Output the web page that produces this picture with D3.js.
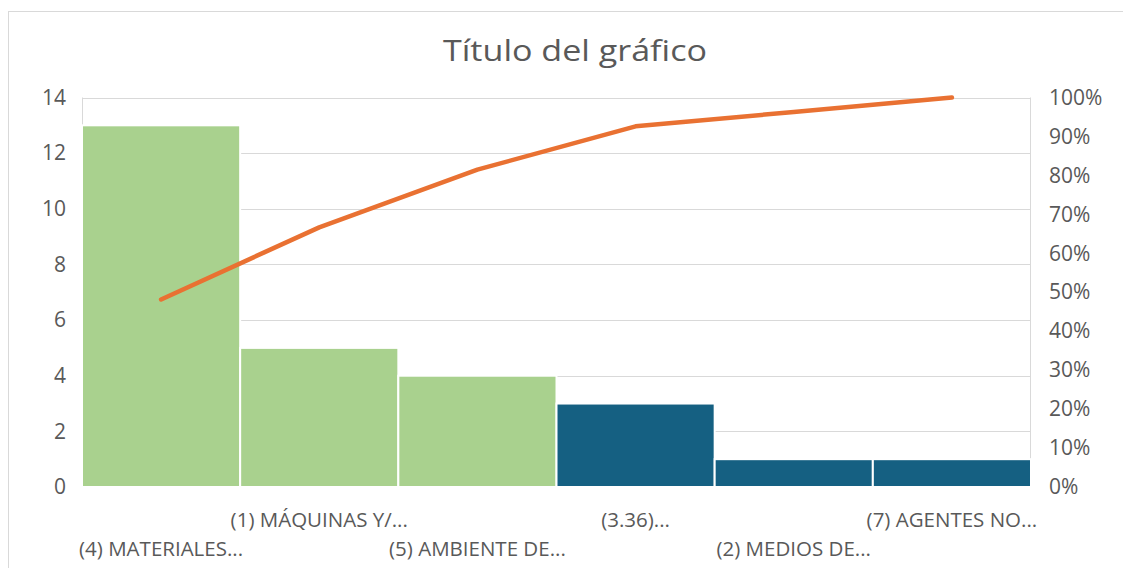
<!DOCTYPE html>
<html><head><meta charset="utf-8">
<script src="https://cdn.jsdelivr.net/npm/d3@7"></script>
<style>body{margin:0;background:#fff;} text{font-family:"Open Sans","Noto Sans",sans-serif;}</style>
</head><body>
<svg id="c" width="1123" height="568"></svg>
<script>
const categories = ["(4) MATERIALES...", "(1) MÁQUINAS Y/...", "(5) AMBIENTE DE...", "(3.36)...", "(2) MEDIOS DE...", "(7) AGENTES NO..."];
const values = [13, 5, 4, 3, 1, 1];
const barColors = ["#A9D18E", "#A9D18E", "#A9D18E", "#156082", "#156082", "#156082"];
const leftTicks = [0, 2, 4, 6, 8, 10, 12, 14];
const rightTicks = [0, 0.1, 0.2, 0.3, 0.4, 0.5, 0.6, 0.7, 0.8, 0.9, 1];
const title = "Título del gráfico";

const total = d3.sum(values);
let acc = 0;
const cumulative = values.map(v => (acc += v) / total);

const svg = d3.select("#c");
const m = {l: 82, r: 1031, t: 97.5, b: 487};
const x = d3.scaleBand().domain(categories).range([m.l, m.r]).padding(0);
const y = d3.scaleLinear().domain([0, 14]).range([m.b, m.t]);
const y2 = d3.scaleLinear().domain([0, 1]).range([m.b, m.t]);

// chart border
svg.append("rect").attr("x", 8.5).attr("y", 11.5).attr("width", 1125).attr("height", 570)
  .attr("fill", "none").attr("stroke", "#d9d9d9");

// title
svg.append("text").attr("x", 575).attr("y", 61).attr("text-anchor", "middle")
  .attr("font-size", 30).attr("fill", "#595959")
  .attr("textLength", 264).attr("lengthAdjust", "spacingAndGlyphs")
  .text(title);

// gridlines
svg.append("g").selectAll("line").data(leftTicks).join("line")
  .attr("x1", m.l).attr("x2", m.r).attr("y1", d => Math.round(y(d)) + 0.5).attr("y2", d => Math.round(y(d)) + 0.5)
  .attr("stroke", "#d9d9d9").attr("stroke-width", 1);
// plot area sides
svg.append("line").attr("x1", m.l + 0.5).attr("x2", m.l + 0.5).attr("y1", m.t).attr("y2", m.b).attr("stroke", "#d9d9d9");
svg.append("line").attr("x1", m.r - 0.5).attr("x2", m.r - 0.5).attr("y1", m.t).attr("y2", m.b).attr("stroke", "#d9d9d9");

// bars
svg.append("g").selectAll("rect").data(values).join("rect")
  .attr("x", (d, i) => x(categories[i]))
  .attr("width", x.bandwidth())
  .attr("y", d => y(d))
  .attr("height", d => y(0) - y(d))
  .attr("fill", (d, i) => barColors[i])
  .attr("stroke", "#ffffff").attr("stroke-width", 2);

// cumulative line
const line = d3.line().x((d, i) => x(categories[i]) + x.bandwidth() / 2).y(d => y2(d));
svg.append("path").datum(cumulative).attr("d", line)
  .attr("fill", "none").attr("stroke", "#E97132").attr("stroke-width", 4.5)
  .attr("stroke-linecap", "round").attr("stroke-linejoin", "round");

// left axis
const la = svg.append("g").attr("transform", `translate(${m.l - 16},0)`)
  .call(d3.axisLeft(y).tickValues(leftTicks).tickSize(0).tickPadding(0));
la.select(".domain").remove();
la.selectAll("text").attr("font-size", 21).attr("fill", "#595959").attr("font-family", "'Open Sans',sans-serif");

// right axis
const ra = svg.append("g").attr("transform", `translate(${m.r + 18},0)`)
  .call(d3.axisRight(y2).tickValues(rightTicks).tickFormat(d3.format(".0%")).tickSize(0).tickPadding(0));
ra.select(".domain").remove();
ra.selectAll("text").attr("font-size", 21).attr("fill", "#595959").attr("font-family", "'Open Sans',sans-serif");

// x labels, staggered
svg.append("g").selectAll("text").data(categories).join("text")
  .attr("x", d => x(d) + x.bandwidth() / 2)
  .attr("y", (d, i) => i % 2 === 1 ? 527 : 556)
  .attr("text-anchor", "middle").attr("font-size", 20.5).attr("fill", "#595959")
  .attr("font-family", "'Open Sans',sans-serif")
  .text(d => d);
</script>
</body></html>
